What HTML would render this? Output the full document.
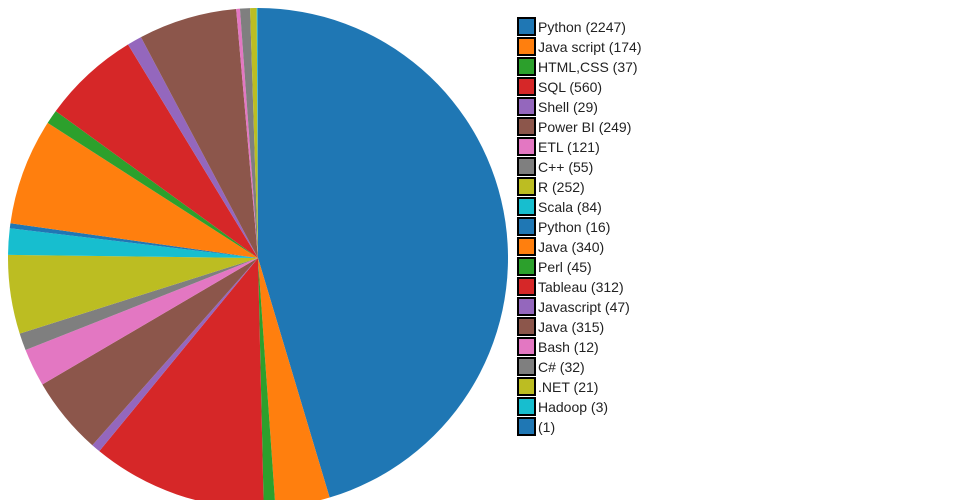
<!DOCTYPE html>
<html><head><meta charset="utf-8"><style>
body{margin:0;background:#fff;width:960px;height:500px;overflow:hidden}
svg{display:block}
text{font-family:"Liberation Sans","DejaVu Sans",sans-serif;font-size:14px;fill:#222}
</style></head><body>
<svg id="s" width="960" height="500" xmlns="http://www.w3.org/2000/svg">
<g id="pie"></g><g id="leg"></g>
</svg>
<script>
var data=[["Python",2247],["Java script",174],["HTML,CSS",37],["SQL",560],["Shell",29],["Power BI",249],["ETL",121],["C++",55],["R",252],["Scala",84],["Python",16],["Java",340],["Perl",45],["Tableau",312],["Javascript",47],["Java",315],["Bash",12],["C#",32],[".NET",21],["Hadoop",3],["",1]];
var col=["#1f77b4","#ff7f0e","#2ca02c","#d62728","#9467bd","#8c564b","#e377c2","#7f7f7f","#bcbd22","#17becf"];
var tot=data.reduce(function(a,d){return a+d[1]},0);
var cx=258,cy=258,r=250,a=0,ns="http://www.w3.org/2000/svg";
var pie=document.getElementById("pie"),leg=document.getElementById("leg");
data.forEach(function(d,i){
 var a2=a+d[1]/tot*2*Math.PI;
 var x1=cx+r*Math.sin(a),y1=cy-r*Math.cos(a),x2=cx+r*Math.sin(a2),y2=cy-r*Math.cos(a2);
 var p=document.createElementNS(ns,"path");
 p.setAttribute("d","M"+cx+","+cy+"L"+x1+","+y1+"A"+r+","+r+" 0 "+(a2-a>Math.PI?1:0)+" 1 "+x2+","+y2+"Z");
 p.setAttribute("fill",col[i%10]);pie.appendChild(p);a=a2;
 var y=18+i*20;
 var rc=document.createElementNS(ns,"rect");
 rc.setAttribute("x",518);rc.setAttribute("y",y);rc.setAttribute("width",17);rc.setAttribute("height",17);
 rc.setAttribute("fill",col[i%10]);rc.setAttribute("stroke","#000");rc.setAttribute("stroke-width",2);leg.appendChild(rc);
 var t=document.createElementNS(ns,"text");
 t.setAttribute("x",538);t.setAttribute("y",y+14);
 t.textContent=(d[0]?d[0]+" ":"")+"("+d[1]+")";leg.appendChild(t);
});
</script>
</body></html>
